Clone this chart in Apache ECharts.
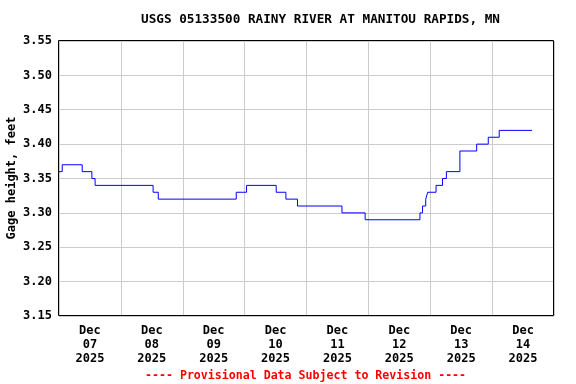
<!DOCTYPE html>
<html><head><meta charset="utf-8">
<script src="https://cdn.jsdelivr.net/npm/echarts@6/dist/echarts.min.js"></script>
<style>html,body{margin:0;padding:0;background:#fff}#c{width:576px;height:384px}</style>
</head><body><div id="c"></div>
<script>
const titleText = 'USGS 05133500 RAINY RIVER AT MANITOU RAPIDS, MN';
const yAxisName = 'Gage height, feet';
const footerText = '---- Provisional Data Subject to Revision ----';
const startTime = '2025-12-07 00:00';
const endTime = '2025-12-15 00:00';
const changeTimes = [
  '2025-12-07 00:00','2025-12-07 01:15','2025-12-07 09:00','2025-12-07 12:45','2025-12-07 14:00',
  '2025-12-08 12:30','2025-12-08 14:30','2025-12-09 20:45','2025-12-10 00:45','2025-12-10 12:15',
  '2025-12-10 16:00','2025-12-10 20:30','2025-12-11 13:45','2025-12-11 22:45','2025-12-12 20:00',
  '2025-12-12 21:00','2025-12-12 22:15','2025-12-12 23:00','2025-12-13 02:15','2025-12-13 04:45',
  '2025-12-13 06:15','2025-12-13 11:30','2025-12-13 18:00','2025-12-13 22:30','2025-12-14 02:45',
  '2025-12-14 15:30'
];
const gageValues = [
  3.36,3.37,3.36,3.35,3.34,
  3.33,3.32,3.33,3.34,3.33,
  3.32,3.31,3.30,3.29,3.30,
  3.31,3.32,3.33,3.34,3.35,
  3.36,3.39,3.40,3.41,3.42,
  3.42
];
const dayLabels = ['Dec\n07\n2025','Dec\n08\n2025','Dec\n09\n2025','Dec\n10\n2025','Dec\n11\n2025','Dec\n12\n2025','Dec\n13\n2025','Dec\n14\n2025'];
const yMin = 3.15, yMax = 3.55, yStep = 0.05;

function toMs(s){const [d,t]=s.split(' ');const [Y,M,D]=d.split('-').map(Number);const [h,m]=t.split(':').map(Number);return Date.UTC(Y,M-1,D,h,m);}
const t0 = toMs(startTime);
const hrs = s => (toMs(s)-t0)/3600000;
const xMax = hrs(endTime);
const seriesData = changeTimes.map((t,i)=>[hrs(t), gageValues[i]]);

const FONT = 'DejaVu Sans Mono';
const GL = 59, GT = 41, GR = 22, GB = 68, W = 576, H = 384;
const chart = echarts.init(document.getElementById('c'), null, {renderer:'canvas'});
chart.setOption({
  animation:false,
  backgroundColor:'#fff',
  grid:{left:GL, top:GT, right:GR, bottom:GB, show:false},
  graphic:[
    {type:'text', left:141, top:13, style:{text:titleText, font:'bold 12.7px "'+FONT+'"', fill:'#000'}},
    {type:'text', left:145, top:370, style:{text:footerText, font:'bold 11.6px "'+FONT+'"', fill:'#ff0000'}},
    {type:'text', x:12, y:178, rotation:Math.PI/2, style:{text:yAxisName, font:'bold 12px "'+FONT+'"', fill:'#000', align:'center', verticalAlign:'middle'}},
    {type:'rect', z:100, silent:true, shape:{x:GL-0.5, y:GT-0.5, width:W-GL-GR, height:H-GT-GB}, style:{fill:null, stroke:'#000', lineWidth:1}}
  ],
  xAxis:[
    {type:'value', min:0, max:xMax, interval:24, axisLine:{show:false}, axisTick:{show:false}, axisLabel:{show:false},
     splitLine:{show:true, lineStyle:{color:'#cccccc', width:1}}},
    {type:'value', min:0, max:xMax, interval:12, position:'bottom', axisLine:{show:false}, axisTick:{show:false}, splitLine:{show:false},
     axisLabel:{show:true, margin:8, lineHeight:14, color:'#000', fontFamily:FONT, fontWeight:'bold', fontSize:12, align:'center',
       showMinLabel:true, showMaxLabel:true,
       formatter:v=>{ const r = Math.round(v); if (r % 24 === 12) return dayLabels[(r-12)/24] || ''; return ''; }}}
  ],
  yAxis:{type:'value', min:yMin, max:yMax, interval:yStep, axisLine:{show:false}, axisTick:{show:false},
    axisLabel:{margin:7, color:'#000', fontFamily:FONT, fontWeight:'bold', fontSize:12, formatter:v=>v.toFixed(2)},
    splitLine:{show:true, lineStyle:{color:'#cccccc', width:1}}},
  series:[{type:'line', xAxisIndex:0, step:'end', data:seriesData, showSymbol:false, symbol:'none',
    lineStyle:{color:'#0000ff', width:1}, itemStyle:{color:'#0000ff'}}]
});
</script></body></html>
